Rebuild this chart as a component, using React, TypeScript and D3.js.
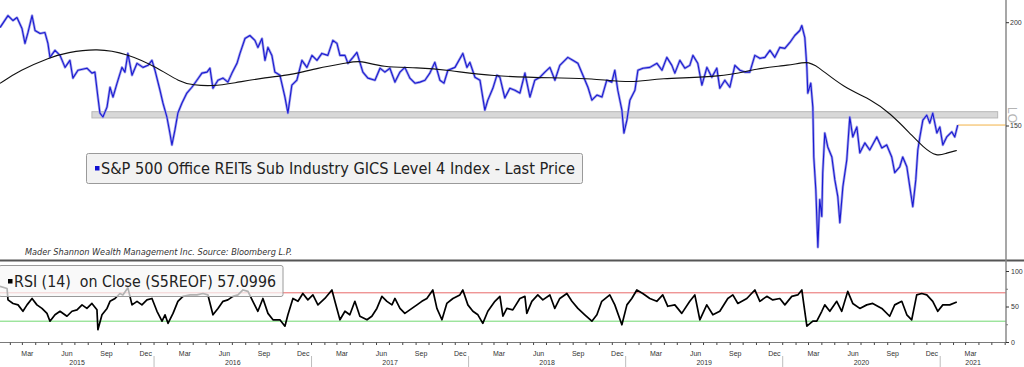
import React, { useEffect, useRef } from 'react';
import * as d3 from 'd3';

// time values are years after 1 Jan 2015
const BASE_YEAR = 2015;

const priceT = [
  0.019, 0.070, 0.102, 0.127, 0.159, 0.178, 0.197, 0.223, 0.242, 0.274, 0.305, 0.324, 0.337, 0.369, 0.401, 0.433,
  0.464, 0.483, 0.515, 0.572, 0.604, 0.623, 0.642, 0.655, 0.674, 0.700, 0.719, 0.738, 0.764, 0.795, 0.814, 0.833,
  0.859, 0.891, 0.929, 0.961, 0.986, 1.005, 1.037, 1.056, 1.081, 1.100, 1.113, 1.132, 1.151, 1.177, 1.208, 1.240,
  1.272, 1.304, 1.336, 1.355, 1.374, 1.406, 1.438, 1.469, 1.495, 1.527, 1.546, 1.578, 1.609, 1.641, 1.660, 1.686,
  1.705, 1.724, 1.749, 1.768, 1.800, 1.832, 1.851, 1.876, 1.908, 1.940, 1.972, 2.004, 2.036, 2.067, 2.105, 2.137,
  2.163, 2.182, 2.214, 2.233, 2.265, 2.290, 2.309, 2.328, 2.360, 2.405, 2.437, 2.468, 2.500, 2.532, 2.564, 2.595,
  2.627, 2.659, 2.691, 2.723, 2.754, 2.786, 2.818, 2.844, 2.869, 2.914, 2.964, 2.990, 3.009, 3.041, 3.073, 3.104,
  3.123, 3.155, 3.181, 3.200, 3.231, 3.263, 3.295, 3.327, 3.359, 3.391, 3.422, 3.454, 3.486, 3.518, 3.550, 3.581,
  3.632, 3.664, 3.696, 3.728, 3.760, 3.785, 3.817, 3.849, 3.880, 3.912, 3.931, 3.950, 3.976, 3.989, 4.008, 4.027,
  4.059, 4.078, 4.110, 4.154, 4.199, 4.231, 4.262, 4.294, 4.313, 4.345, 4.377, 4.408, 4.428, 4.459, 4.485, 4.517,
  4.548, 4.580, 4.599, 4.631, 4.663, 4.695, 4.727, 4.758, 4.790, 4.822, 4.854, 4.886, 4.918, 4.949, 4.981, 5.013,
  5.045, 5.076, 5.108, 5.121, 5.140, 5.153, 5.159, 5.178, 5.191, 5.197, 5.210, 5.223, 5.235, 5.248, 5.254, 5.267,
  5.286, 5.312, 5.331, 5.350, 5.363, 5.382, 5.407, 5.426, 5.445, 5.471, 5.490, 5.522, 5.553, 5.598, 5.630, 5.661,
  5.693, 5.712, 5.744, 5.763, 5.789, 5.808, 5.827, 5.846, 5.859, 5.872, 5.891, 5.916, 5.935, 5.954, 5.980, 5.999,
  6.018, 6.043, 6.075, 6.094, 6.113,
];
const priceV = [
  197.3, 204.0, 201.2, 202.9, 196.8, 188.8, 194.6, 204.0, 195.7, 194.1, 194.6, 188.8, 181.6, 185.2, 182.6, 176.6,
  180.1, 171.4, 175.2, 176.2, 173.8, 174.3, 162.6, 155.5, 153.8, 158.1, 167.1, 162.6, 169.0, 176.6, 174.3, 183.6,
  172.8, 178.6, 176.6, 177.6, 180.1, 175.2, 165.7, 159.9, 153.8, 147.1, 142.3, 148.3, 155.5, 159.9, 164.4, 167.1,
  170.4, 173.8, 174.3, 176.2, 166.6, 170.4, 171.4, 169.5, 173.8, 178.6, 183.6, 191.4, 193.0, 190.4, 186.7, 191.4,
  180.1, 186.7, 182.6, 174.3, 172.8, 162.6, 155.5, 168.1, 170.4, 180.1, 176.6, 182.6, 180.1, 183.6, 182.6, 190.4,
  188.8, 182.6, 182.6, 178.6, 181.6, 184.1, 179.1, 174.3, 171.4, 170.4, 176.2, 174.3, 176.2, 169.5, 174.3, 176.6,
  171.4, 169.0, 169.5, 170.4, 173.8, 179.1, 170.4, 169.0, 175.2, 176.6, 183.6, 176.6, 179.1, 171.8, 170.4, 156.8,
  161.2, 166.6, 172.8, 171.8, 162.2, 166.6, 165.7, 164.4, 173.8, 162.6, 170.4, 171.8, 174.3, 176.6, 170.4, 177.6,
  181.6, 180.1, 178.6, 172.8, 167.1, 161.2, 163.5, 162.6, 170.4, 169.5, 175.2, 165.7, 156.8, 147.1, 152.5, 161.2,
  165.7, 175.2, 176.2, 176.6, 178.6, 175.2, 181.6, 177.6, 173.8, 180.1, 176.2, 177.6, 182.6, 178.6, 168.1, 176.6,
  171.8, 176.2, 166.6, 170.4, 167.1, 177.6, 175.2, 174.3, 174.3, 182.6, 181.1, 181.6, 185.2, 181.6, 186.7, 186.2,
  189.3, 193.0, 195.7, 198.4, 191.9, 176.6, 164.4, 169.0, 158.1, 137.6, 125.6, 107.0, 122.2, 116.6, 131.7, 147.1,
  141.5, 137.6, 129.1, 123.2, 114.6, 126.6, 136.5, 153.8, 145.5, 149.6, 139.2, 143.1, 140.3, 145.5, 141.1, 142.3,
  137.6, 131.7, 133.9, 137.6, 133.9, 126.6, 119.8, 129.1, 140.3, 145.5, 152.5, 154.6, 151.2, 155.5, 147.1, 149.6,
  142.3, 145.5, 147.6, 145.5, 150.4,
];

// 200-day moving average
const maT = [
  0.019, 0.146, 0.337, 0.445, 0.636, 0.827, 1.018, 1.164, 1.247, 1.374, 1.501, 1.717, 1.864, 2.036, 2.246, 2.309,
  2.455, 2.672, 2.882, 3.136, 3.562, 3.772, 4.046, 4.199, 4.618, 4.835, 5.045, 5.153, 5.216, 5.382, 5.572, 5.680,
  5.808, 5.891, 5.980, 6.043, 6.107,
];
const maV = [
  168.9, 175.2, 181.6, 184.1, 186.2, 183.6, 176.6, 169.5, 168.1, 167.6, 169.0, 171.8, 172.8, 176.2, 179.1, 180.1,
  176.6, 176.6, 175.2, 172.3, 171.4, 171.4, 169.0, 171.4, 171.8, 176.2, 177.6, 179.6, 177.6, 167.1, 161.2, 155.5,
  147.1, 141.5, 137.6, 139.2, 140.1,
];

const rsiT = [
  0.019, 0.064, 0.070, 0.102, 0.134, 0.165, 0.191, 0.223, 0.254, 0.286, 0.318, 0.337, 0.369, 0.401, 0.445, 0.477,
  0.509, 0.541, 0.572, 0.604, 0.636, 0.642, 0.668, 0.700, 0.719, 0.751, 0.782, 0.801, 0.833, 0.859, 0.891, 0.922,
  0.954, 0.986, 1.018, 1.050, 1.069, 1.088, 1.120, 1.151, 1.183, 1.228, 1.272, 1.310, 1.342, 1.374, 1.406, 1.438,
  1.469, 1.501, 1.533, 1.565, 1.597, 1.628, 1.660, 1.692, 1.724, 1.756, 1.800, 1.832, 1.851, 1.883, 1.915, 1.946,
  1.978, 2.010, 2.042, 2.086, 2.131, 2.150, 2.182, 2.214, 2.245, 2.277, 2.309, 2.354, 2.385, 2.417, 2.449, 2.481,
  2.513, 2.532, 2.564, 2.595, 2.640, 2.672, 2.703, 2.735, 2.773, 2.799, 2.831, 2.862, 2.901, 2.945, 2.964, 2.996,
  3.028, 3.060, 3.091, 3.123, 3.168, 3.200, 3.219, 3.244, 3.282, 3.327, 3.359, 3.371, 3.403, 3.441, 3.473, 3.518,
  3.549, 3.581, 3.626, 3.658, 3.696, 3.740, 3.785, 3.817, 3.848, 3.899, 3.931, 3.976, 4.008, 4.039, 4.071, 4.109,
  4.154, 4.198, 4.236, 4.268, 4.313, 4.357, 4.408, 4.440, 4.472, 4.516, 4.555, 4.599, 4.650, 4.682, 4.714, 4.771,
  4.822, 4.854, 4.898, 4.936, 4.981, 5.013, 5.057, 5.095, 5.121, 5.134, 5.153, 5.191, 5.216, 5.248, 5.267, 5.299,
  5.343, 5.375, 5.413, 5.445, 5.490, 5.534, 5.572, 5.630, 5.680, 5.712, 5.757, 5.789, 5.820, 5.852, 5.884, 5.916,
  5.954, 5.986, 6.018, 6.062, 6.107,
];
const rsiV = [
  79, 76, 60, 55, 53, 44, 53, 62, 53, 48, 41, 30, 39, 44, 37, 44,
  46, 53, 48, 55, 46, 18, 39, 48, 58, 62, 69, 67, 77, 53, 58, 53,
  60, 62, 44, 30, 39, 27, 41, 58, 65, 67, 67, 69, 67, 39, 48, 58,
  60, 65, 67, 74, 72, 58, 44, 62, 41, 32, 32, 23, 39, 62, 58, 69,
  60, 67, 53, 62, 74, 58, 32, 44, 39, 58, 37, 32, 37, 48, 65, 58,
  53, 62, 48, 41, 48, 53, 58, 62, 74, 48, 32, 55, 62, 67, 74, 53,
  44, 39, 27, 44, 58, 65, 37, 48, 46, 62, 65, 41, 58, 67, 60, 67,
  48, 62, 69, 58, 48, 39, 30, 39, 58, 67, 53, 25, 53, 62, 74, 69,
  62, 58, 67, 51, 53, 41, 58, 67, 32, 53, 39, 44, 62, 67, 55, 62,
  74, 58, 65, 60, 62, 53, 65, 67, 74, 53, 23, 30, 30, 44, 53, 44,
  58, 44, 72, 55, 48, 53, 55, 48, 37, 53, 58, 39, 32, 67, 69, 67,
  58, 44, 53, 53, 57.0996,
];

const priceTicks = [150, 200];
const rsiTicks = [0, 50, 100];
const rsiMinorTicks = [25, 75];
const rsiBands = [70, 30];
const bandRange = [153.4, 156.1];
const bandTime = [0.604, 6.367];
const monthNames: Record<number, string> = { 2: 'Mar', 5: 'Jun', 8: 'Sep', 11: 'Dec' };

const W = 1024;
const H = 367;
const AXIS_X = 1006;
const TOP_BOTTOM = 258;
const AXIS_Y = 342.5;

const toDate = (t: number) => new Date(new Date(BASE_YEAR, 0, 1).getTime() + t * 365.25 * 864e5);

export const App: React.FC = () => {
  const ref = useRef<SVGSVGElement>(null);

  useEffect(() => {
    const svg = d3.select(ref.current);
    svg.selectAll('*').remove();

    const x = d3.scaleTime()
      .domain([new Date(2015, 0, 1), new Date(2021, 0, 1)])
      .range([-3, 940.2]);
    const y = d3.scaleLog().domain([150, 200]).range([126, 22.7]);
    const yr = d3.scaleLinear().domain([0, 100]).range([AXIS_Y, 271.5]);
    const endDate = x.invert(AXIS_X);

    const font = 'Liberation Sans, Arial, sans-serif';
    const tahoma = 'DejaVu Sans Condensed, DejaVu Sans, sans-serif';

    const defs = svg.append('defs');
    defs.append('clipPath').attr('id', 'clipTop')
      .append('rect').attr('x', 0).attr('y', 0).attr('width', AXIS_X).attr('height', TOP_BOTTOM);
    defs.append('clipPath').attr('id', 'clipRsi')
      .append('rect').attr('x', 0).attr('y', 262).attr('width', AXIS_X).attr('height', AXIS_Y - 262);

    svg.append('rect').attr('width', W).attr('height', H).attr('fill', '#ffffff');

    // ---- top panel ----
    const top = svg.append('g').attr('clip-path', 'url(#clipTop)');

    top.append('rect')
      .attr('x', x(toDate(bandTime[0])))
      .attr('y', y(bandRange[1]))
      .attr('width', x(toDate(bandTime[1])) - x(toDate(bandTime[0])))
      .attr('height', y(bandRange[0]) - y(bandRange[1]))
      .attr('fill', '#d8d8d8')
      .attr('stroke', '#b8b8b8')
      .attr('stroke-width', 1);

    const price = priceT.map((t, i) => ({ d: toDate(t), v: priceV[i] }));
    const ma = maT.map((t, i) => ({ d: toDate(t), v: maV[i] }));
    const last = price[price.length - 1];

    top.append('line')
      .attr('x1', x(last.d)).attr('x2', AXIS_X)
      .attr('y1', y(last.v)).attr('y2', y(last.v))
      .attr('stroke', '#f2b347').attr('stroke-width', 1);

    const priceLine = d3.line<{ d: Date; v: number }>().x(p => x(p.d)).y(p => y(p.v));

    top.append('path').datum(price)
      .attr('d', priceLine)
      .attr('fill', 'none')
      .attr('stroke', '#a4a4ea')
      .attr('stroke-width', 2.6)
      .attr('stroke-linejoin', 'round');
    top.append('path').datum(price)
      .attr('d', priceLine)
      .attr('fill', 'none')
      .attr('stroke', '#1a1ad2')
      .attr('stroke-width', 1.1)
      .attr('stroke-linejoin', 'round');

    top.append('path').datum(ma)
      .attr('d', priceLine.curve(d3.curveBasis))
      .attr('fill', 'none')
      .attr('stroke', '#111111')
      .attr('stroke-width', 1.1);

    // legend
    const lg = svg.append('g');
    lg.append('rect')
      .attr('x', 86.5).attr('y', 153.5).attr('width', 496).attr('height', 30).attr('rx', 2)
      .attr('fill', '#f2f2f2').attr('stroke', '#9a9a9a');
    lg.append('rect').attr('x', 95).attr('y', 166).attr('width', 4.5).attr('height', 4.5).attr('fill', '#1010d0');
    lg.append('text')
      .attr('x', 101).attr('y', 174)
      .attr('font-family', tahoma).attr('font-size', 15.5)
      .attr('fill', '#222')
      .attr('textLength', 474).attr('lengthAdjust', 'spacingAndGlyphs')
      .text('S&P 500 Office REITs Sub Industry GICS Level 4 Index - Last Price');

    svg.append('text')
      .attr('x', 25).attr('y', 255)
      .attr('font-family', tahoma).attr('font-size', 8.5).attr('font-style', 'italic')
      .attr('fill', '#333')
      .attr('textLength', 267).attr('lengthAdjust', 'spacingAndGlyphs')
      .text('Mader Shannon Wealth Management Inc. Source: Bloomberg L.P.');

    // panel separator
    svg.append('line').attr('x1', 0).attr('x2', W).attr('y1', 260.5).attr('y2', 260.5)
      .attr('stroke', '#555').attr('stroke-width', 2);

    // ---- RSI panel ----
    const rs = svg.append('g').attr('clip-path', 'url(#clipRsi)');
    rs.append('line').attr('x1', 0).attr('x2', AXIS_X).attr('y1', yr(rsiBands[0])).attr('y2', yr(rsiBands[0]))
      .attr('stroke', '#e86a6a').attr('stroke-width', 1);
    rs.append('line').attr('x1', 0).attr('x2', AXIS_X).attr('y1', yr(rsiBands[1])).attr('y2', yr(rsiBands[1]))
      .attr('stroke', '#72d872').attr('stroke-width', 1);

    const rsi = rsiT.map((t, i) => ({ d: toDate(t), v: rsiV[i] }));
    rs.append('path').datum(rsi)
      .attr('d', d3.line<{ d: Date; v: number }>().x(p => x(p.d)).y(p => yr(p.v)))
      .attr('fill', 'none')
      .attr('stroke', '#000')
      .attr('stroke-width', 1.7)
      .attr('stroke-linejoin', 'round');

    const rl = svg.append('g');
    rl.append('rect')
      .attr('x', -1).attr('y', 265.5).attr('width', 284).attr('height', 31).attr('rx', 2)
      .attr('fill', 'rgba(246,246,246,0.72)').attr('stroke', '#9a9a9a');
    rl.append('rect').attr('x', 8).attr('y', 279).attr('width', 4.5).attr('height', 4.5).attr('fill', '#000');
    rl.append('text')
      .attr('x', 14).attr('y', 287)
      .attr('font-family', tahoma).attr('font-size', 15.5)
      .attr('fill', '#222')
      .style('white-space', 'pre')
      .attr('textLength', 262).attr('lengthAdjust', 'spacingAndGlyphs')
      .text('RSI (14)  on Close (S5REOF) 57.0996');

    // ---- right axis ----
    const ax = svg.append('g');
    ax.append('line').attr('x1', AXIS_X).attr('x2', AXIS_X).attr('y1', 0).attr('y2', AXIS_Y)
      .attr('stroke', '#8a8a8a').attr('stroke-width', 1.5);
    priceTicks.forEach(v => {
      ax.append('line').attr('x1', AXIS_X).attr('x2', AXIS_X + 3).attr('y1', y(v)).attr('y2', y(v))
        .attr('stroke', '#333');
      ax.append('text').attr('x', AXIS_X + 4).attr('y', y(v)).attr('dy', '0.35em')
        .attr('font-family', font).attr('font-size', 7).attr('fill', '#333').text(v);
    });
    ax.append('text')
      .attr('transform', `translate(1008,107) rotate(90)`)
      .attr('font-family', font).attr('font-size', 12).attr('fill', '#b4b4b4')
      .text('LO');
    rsiTicks.forEach(v => {
      ax.append('line').attr('x1', AXIS_X).attr('x2', AXIS_X + 3).attr('y1', yr(v)).attr('y2', yr(v))
        .attr('stroke', '#333');
      ax.append('text').attr('x', AXIS_X + 5).attr('y', yr(v)).attr('dy', '0.35em')
        .attr('font-family', font).attr('font-size', 7).attr('fill', '#333').text(v);
    });
    rsiMinorTicks.forEach(v => {
      ax.append('line').attr('x1', AXIS_X).attr('x2', AXIS_X + 2).attr('y1', yr(v)).attr('y2', yr(v))
        .attr('stroke', '#777');
    });

    // ---- time axis ----
    const bx = svg.append('g');
    bx.append('line').attr('x1', 0).attr('x2', AXIS_X).attr('y1', AXIS_Y).attr('y2', AXIS_Y)
      .attr('stroke', '#7a7a7a').attr('stroke-width', 1);
    const months = d3.timeMonth.range(new Date(2015, 0, 1), endDate);
    months.forEach(m => {
      const mx = x(m);
      if (mx < 0) return;
      bx.append('line').attr('x1', mx).attr('x2', mx).attr('y1', AXIS_Y).attr('y2', AXIS_Y + 2.5)
        .attr('stroke', '#444');
      const name = monthNames[m.getMonth()];
      if (name && mx + 15 < AXIS_X) {
        bx.append('text').attr('x', mx + 5).attr('y', 356)
          .attr('text-anchor', 'middle')
          .attr('font-family', font).attr('font-size', 7).attr('fill', '#333').text(name);
      }
    });
    const years = d3.timeYear.range(new Date(2015, 0, 1), endDate);
    years.forEach(yd => {
      const x0 = Math.max(0, x(yd));
      const x1 = Math.min(AXIS_X, x(d3.timeYear.offset(yd, 1)));
      if (yd.getFullYear() > 2015) {
        bx.append('line').attr('x1', x(yd)).attr('x2', x(yd)).attr('y1', 356).attr('y2', H)
          .attr('stroke', '#bdbdbd');
      }
      bx.append('text').attr('x', (x0 + x1) / 2).attr('y', 365)
        .attr('text-anchor', 'middle')
        .attr('font-family', font).attr('font-size', 7).attr('fill', '#333').text(yd.getFullYear());
    });
  }, []);

  return (
    <svg ref={ref} width={W} height={H} style={{ position: 'absolute', left: 0, top: 0, display: 'block' }} />
  );
};

export default App;
